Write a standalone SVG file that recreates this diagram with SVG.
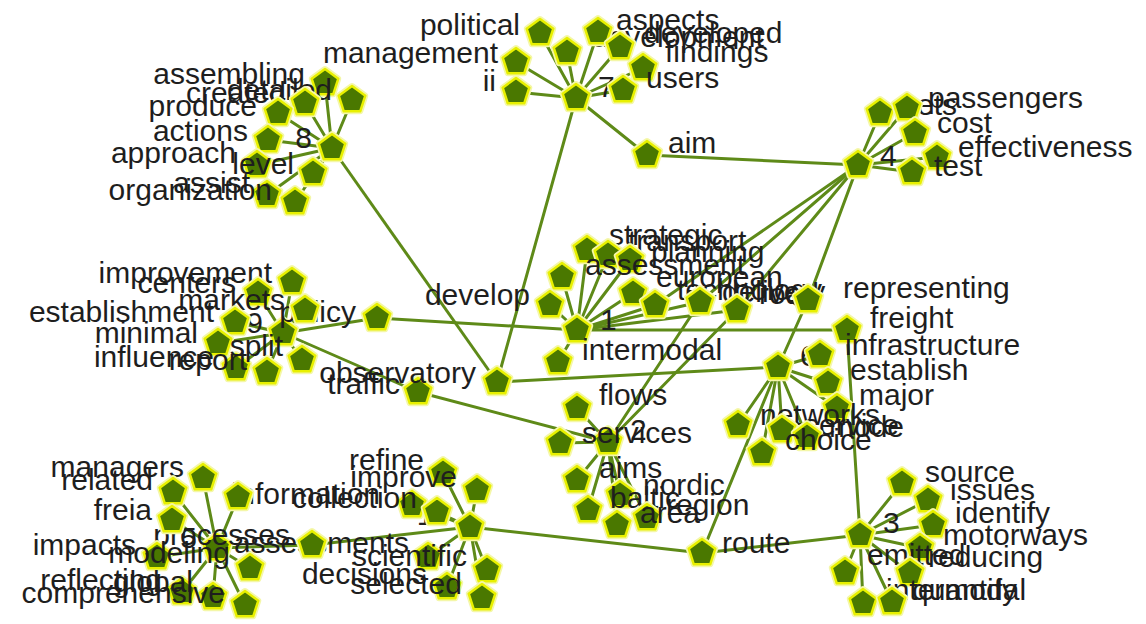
<svg xmlns="http://www.w3.org/2000/svg" xmlns:xlink="http://www.w3.org/1999/xlink" width="1146" height="624" viewBox="0 0 1146 624">
<style>
.e line{stroke:#5e8a18;stroke-width:3;stroke-linecap:round}
.t{font-family:"Liberation Sans",Arial,sans-serif;font-size:30px;fill:#1e1e1e}
.L{text-anchor:end}
</style>
<defs>
<g id="p">
<polygon points="0,-14 13.31,-4.33 8.23,11.33 -8.23,11.33 -13.31,-4.33" fill="none" stroke="#f4f7a8" stroke-width="6" stroke-linejoin="round"/>
<polygon points="0,-14 13.31,-4.33 8.23,11.33 -8.23,11.33 -13.31,-4.33" fill="#4a7800" stroke="#e8f000" stroke-width="2.5" stroke-linejoin="round"/>
</g>
</defs>
<rect width="1146" height="624" fill="#ffffff"/>
<g id="connectors" class="e">
<line x1="576" y1="98" x2="540" y2="33"/><line x1="576" y1="98" x2="516" y2="62"/><line x1="576" y1="98" x2="516" y2="92"/><line x1="576" y1="98" x2="567" y2="52"/><line x1="576" y1="98" x2="598" y2="32"/><line x1="576" y1="98" x2="620" y2="47"/><line x1="576" y1="98" x2="643" y2="68"/><line x1="576" y1="98" x2="623" y2="90"/><line x1="576" y1="98" x2="647" y2="155"/><line x1="576" y1="98" x2="497" y2="382"/>
<line x1="332" y1="148" x2="325" y2="83"/><line x1="332" y1="148" x2="352" y2="100"/><line x1="332" y1="148" x2="305" y2="103"/><line x1="332" y1="148" x2="278" y2="113"/><line x1="332" y1="148" x2="268" y2="140"/><line x1="332" y1="148" x2="257" y2="165"/><line x1="332" y1="148" x2="313" y2="173"/><line x1="332" y1="148" x2="267" y2="195"/><line x1="332" y1="148" x2="295" y2="202"/><line x1="332" y1="148" x2="497" y2="382"/>
<line x1="858" y1="165" x2="880" y2="113"/><line x1="858" y1="165" x2="907" y2="108"/><line x1="858" y1="165" x2="915" y2="133"/><line x1="858" y1="165" x2="937" y2="157"/><line x1="858" y1="165" x2="912" y2="172"/><line x1="858" y1="165" x2="647" y2="155"/><line x1="858" y1="165" x2="655" y2="305"/><line x1="858" y1="165" x2="700" y2="302"/><line x1="858" y1="165" x2="737" y2="310"/><line x1="858" y1="165" x2="808" y2="300"/>
<line x1="577" y1="330" x2="587" y2="250"/><line x1="577" y1="330" x2="608" y2="255"/><line x1="577" y1="330" x2="630" y2="260"/><line x1="577" y1="330" x2="562" y2="277"/><line x1="577" y1="330" x2="550" y2="305"/><line x1="577" y1="330" x2="633" y2="293"/><line x1="577" y1="330" x2="655" y2="305"/><line x1="577" y1="330" x2="700" y2="302"/><line x1="577" y1="330" x2="737" y2="310"/><line x1="577" y1="330" x2="558" y2="362"/><line x1="577" y1="330" x2="377" y2="318"/><line x1="577" y1="330" x2="847" y2="330"/>
<line x1="283" y1="333" x2="292" y2="282"/><line x1="283" y1="333" x2="258" y2="293"/><line x1="283" y1="333" x2="305" y2="310"/><line x1="283" y1="333" x2="235" y2="322"/><line x1="283" y1="333" x2="218" y2="343"/><line x1="283" y1="333" x2="302" y2="360"/><line x1="283" y1="333" x2="267" y2="372"/><line x1="283" y1="333" x2="236" y2="368"/><line x1="283" y1="333" x2="377" y2="318"/><line x1="283" y1="333" x2="418" y2="392"/>
<line x1="418" y1="392" x2="608" y2="442"/>
<line x1="608" y1="442" x2="577" y2="408"/><line x1="608" y1="442" x2="560" y2="443"/><line x1="608" y1="442" x2="577" y2="480"/><line x1="608" y1="442" x2="588" y2="510"/><line x1="608" y1="442" x2="620" y2="495"/><line x1="608" y1="442" x2="617" y2="525"/><line x1="608" y1="442" x2="647" y2="518"/><line x1="608" y1="442" x2="700" y2="302"/><line x1="608" y1="442" x2="737" y2="310"/>
<line x1="778" y1="367" x2="820" y2="355"/><line x1="778" y1="367" x2="828" y2="383"/><line x1="778" y1="367" x2="837" y2="408"/><line x1="778" y1="367" x2="738" y2="425"/><line x1="778" y1="367" x2="762" y2="453"/><line x1="778" y1="367" x2="782" y2="430"/><line x1="778" y1="367" x2="807" y2="437"/><line x1="778" y1="367" x2="497" y2="382"/><line x1="778" y1="367" x2="808" y2="300"/><line x1="778" y1="367" x2="702" y2="553"/>
<line x1="860" y1="535" x2="902" y2="483"/><line x1="860" y1="535" x2="928" y2="500"/><line x1="860" y1="535" x2="933" y2="525"/><line x1="860" y1="535" x2="920" y2="548"/><line x1="860" y1="535" x2="910" y2="573"/><line x1="860" y1="535" x2="845" y2="572"/><line x1="860" y1="535" x2="863" y2="603"/><line x1="860" y1="535" x2="892" y2="602"/><line x1="860" y1="535" x2="847" y2="330"/><line x1="860" y1="535" x2="702" y2="553"/>
<line x1="702" y1="553" x2="470" y2="527"/>
<line x1="470" y1="527" x2="443" y2="473"/><line x1="470" y1="527" x2="477" y2="490"/><line x1="470" y1="527" x2="412" y2="505"/><line x1="470" y1="527" x2="437" y2="512"/><line x1="470" y1="527" x2="428" y2="557"/><line x1="470" y1="527" x2="487" y2="570"/><line x1="470" y1="527" x2="447" y2="587"/><line x1="470" y1="527" x2="482" y2="598"/><line x1="470" y1="527" x2="312" y2="545"/>
<line x1="312" y1="545" x2="217" y2="548"/>
<line x1="217" y1="548" x2="203" y2="478"/><line x1="217" y1="548" x2="173" y2="492"/><line x1="217" y1="548" x2="238" y2="497"/><line x1="217" y1="548" x2="172" y2="520"/><line x1="217" y1="548" x2="157" y2="557"/><line x1="217" y1="548" x2="250" y2="568"/><line x1="217" y1="548" x2="182" y2="592"/><line x1="217" y1="548" x2="213" y2="597"/><line x1="217" y1="548" x2="245" y2="605"/>
</g>
<g id="nodes">
<g id="hub7"><text class="t" x="598" y="97">7</text><use href="#p" x="576" y="98"/></g>
<g id="hub8"><text class="t L" x="312" y="148">8</text><use href="#p" x="332" y="148"/></g>
<g id="hub4"><text class="t" x="880" y="166">4</text><use href="#p" x="858" y="165"/></g>
<g id="hub1"><text class="t" x="600" y="330">1</text><use href="#p" x="577" y="330"/></g>
<g id="hub9"><text class="t L" x="263" y="333">9</text><use href="#p" x="283" y="333"/></g>
<g id="hub2"><text class="t" x="630" y="440">2</text><use href="#p" x="608" y="442"/></g>
<g id="hub6"><text class="t" x="800" y="366">6</text><use href="#p" x="778" y="367"/></g>
<g id="hub3"><text class="t" x="883" y="533">3</text><use href="#p" x="860" y="535"/></g>
<g id="hub10"><text class="t L" x="450" y="525">10</text><use href="#p" x="470" y="527"/></g>
<g id="hub5"><text class="t L" x="197" y="548">5</text><use href="#p" x="217" y="548"/></g>

<g id="n-political"><text class="t L" x="520" y="35">political</text><use href="#p" x="540" y="33"/></g>
<g id="n-management"><text class="t L" x="498" y="63">management</text><use href="#p" x="516" y="62"/></g>
<g id="n-ii"><text class="t L" x="496" y="91">ii</text><use href="#p" x="516" y="92"/></g>
<g id="n-development"><text class="t" x="592" y="47">development</text><use href="#p" x="567" y="52"/></g>
<g id="n-aspects"><text class="t" x="616" y="30">aspects</text><use href="#p" x="598" y="32"/></g>
<g id="n-developed"><text class="t" x="644" y="43">developed</text><use href="#p" x="620" y="47"/></g>
<g id="n-findings"><text class="t" x="665" y="62">findings</text><use href="#p" x="643" y="68"/></g>
<g id="n-users"><text class="t" x="646" y="88">users</text><use href="#p" x="623" y="90"/></g>
<g id="n-aim"><text class="t" x="668" y="153">aim</text><use href="#p" x="647" y="155"/></g>

<g id="n-assembling"><text class="t L" x="305" y="84">assembling</text><use href="#p" x="325" y="83"/></g>
<g id="n-detailed"><text class="t L" x="332" y="100">detailed</text><use href="#p" x="352" y="100"/></g>
<g id="n-created"><text class="t L" x="286" y="103">created</text><use href="#p" x="305" y="103"/></g>
<g id="n-produce"><text class="t L" x="257" y="116">produce</text><use href="#p" x="278" y="113"/></g>
<g id="n-actions"><text class="t L" x="248" y="141">actions</text><use href="#p" x="268" y="140"/></g>
<g id="n-approach"><text class="t L" x="236" y="163">approach</text><use href="#p" x="257" y="165"/></g>
<g id="n-level"><text class="t L" x="294" y="174">level</text><use href="#p" x="313" y="173"/></g>
<g id="n-assist"><text class="t L" x="250" y="193">assist</text><use href="#p" x="267" y="195"/></g>
<g id="n-organization"><text class="t L" x="272" y="200">organization</text><use href="#p" x="295" y="202"/></g>

<g id="n-sets"><text class="t" x="902" y="115">sets</text><use href="#p" x="880" y="113"/></g>
<g id="n-passengers"><text class="t" x="928" y="108">passengers</text><use href="#p" x="907" y="108"/></g>
<g id="n-cost"><text class="t" x="937" y="133">cost</text><use href="#p" x="915" y="133"/></g>
<g id="n-effectiveness"><text class="t" x="958" y="157">effectiveness</text><use href="#p" x="937" y="157"/></g>
<g id="n-test"><text class="t" x="934" y="176">test</text><use href="#p" x="912" y="172"/></g>

<g id="n-strategic"><text class="t" x="609" y="245">strategic</text><use href="#p" x="587" y="250"/></g>
<g id="n-transport"><text class="t" x="628" y="251">transport</text><use href="#p" x="608" y="255"/></g>
<g id="n-planning"><text class="t" x="651" y="262">planning</text><use href="#p" x="630" y="260"/></g>
<g id="n-assessment"><text class="t" x="585" y="275">assessment</text><use href="#p" x="562" y="277"/></g>
<g id="n-develop"><text class="t L" x="530" y="305">develop</text><use href="#p" x="550" y="305"/></g>
<g id="n-european"><text class="t" x="656" y="287">european</text><use href="#p" x="633" y="293"/></g>
<g id="n-technology"><text class="t" x="677" y="300">technology</text><use href="#p" x="655" y="305"/></g>
<g id="n-delivery"><text class="t" x="722" y="302">delivery</text><use href="#p" x="700" y="302"/></g>
<g id="n-road"><text class="t" x="759" y="304">road</text><use href="#p" x="737" y="310"/></g>
<g id="n-representing"><text class="t" x="843" y="298">representing</text><use href="#p" x="808" y="300"/></g>
<g id="n-intermodal1"><text class="t" x="582" y="360">intermodal</text><use href="#p" x="558" y="362"/></g>
<g id="n-freight"><text class="t" x="870" y="328">freight</text><use href="#p" x="847" y="330"/></g>
<g id="n-policy"><text class="t L" x="356" y="322">policy</text><use href="#p" x="377" y="318"/></g>

<g id="n-improvement"><text class="t L" x="272" y="283">improvement</text><use href="#p" x="292" y="282"/></g>
<g id="n-centers"><text class="t L" x="236" y="293">centers</text><use href="#p" x="258" y="293"/></g>
<g id="n-markets"><text class="t L" x="285" y="310">markets</text><use href="#p" x="305" y="310"/></g>
<g id="n-establishment"><text class="t L" x="214" y="322">establishment</text><use href="#p" x="235" y="322"/></g>
<g id="n-minimal"><text class="t L" x="198" y="343">minimal</text><use href="#p" x="218" y="343"/></g>
<g id="n-influence"><text class="t L" x="214" y="367">influence</text><use href="#p" x="236" y="368"/></g>
<g id="n-split"><text class="t L" x="283" y="356">split</text><use href="#p" x="302" y="360"/></g>
<g id="n-report"><text class="t L" x="247" y="370">report</text><use href="#p" x="267" y="372"/></g>
<g id="n-traffic"><text class="t L" x="400" y="394">traffic</text><use href="#p" x="418" y="392"/></g>
<g id="n-observatory"><text class="t L" x="476" y="383">observatory</text><use href="#p" x="497" y="382"/></g>

<g id="n-flows"><text class="t" x="599" y="405">flows</text><use href="#p" x="577" y="408"/></g>
<g id="n-services"><text class="t" x="582" y="443">services</text><use href="#p" x="560" y="443"/></g>
<g id="n-aims"><text class="t" x="599" y="478">aims</text><use href="#p" x="577" y="480"/></g>
<g id="n-nordic"><text class="t" x="643" y="495">nordic</text><use href="#p" x="620" y="495"/></g>
<g id="n-baltic"><text class="t" x="610" y="508">baltic</text><use href="#p" x="588" y="510"/></g>
<g id="n-region"><text class="t" x="666" y="515">region</text><use href="#p" x="647" y="518"/></g>
<g id="n-area"><text class="t" x="640" y="523">area</text><use href="#p" x="617" y="525"/></g>

<g id="n-infrastructure"><text class="t" x="845" y="355">infrastructure</text><use href="#p" x="820" y="355"/></g>
<g id="n-establish"><text class="t" x="850" y="380">establish</text><use href="#p" x="828" y="383"/></g>
<g id="n-major"><text class="t" x="859" y="405">major</text><use href="#p" x="837" y="408"/></g>
<g id="n-networks"><text class="t" x="760" y="425">networks</text><use href="#p" x="738" y="425"/></g>
<g id="n-service"><text class="t" x="804" y="435">service</text><use href="#p" x="782" y="430"/></g>
<g id="n-mode"><text class="t" x="829" y="437">mode</text><use href="#p" x="807" y="437"/></g>
<g id="n-choice"><text class="t" x="785" y="450">choice</text><use href="#p" x="762" y="453"/></g>

<g id="n-source"><text class="t" x="925" y="482">source</text><use href="#p" x="902" y="483"/></g>
<g id="n-issues"><text class="t" x="950" y="500">issues</text><use href="#p" x="928" y="500"/></g>
<g id="n-identify"><text class="t" x="955" y="523">identify</text><use href="#p" x="933" y="525"/></g>
<g id="n-motorways"><text class="t" x="943" y="545">motorways</text><use href="#p" x="920" y="548"/></g>
<g id="n-emitted"><text class="t" x="867" y="565">emitted</text><use href="#p" x="845" y="572"/></g>
<g id="n-reducing"><text class="t" x="928" y="567">reducing</text><use href="#p" x="910" y="573"/></g>
<g id="n-intermodal3"><text class="t" x="886" y="600">intermodal</text><use href="#p" x="863" y="603"/></g>
<g id="n-quantify"><text class="t" x="912" y="600">quantify</text><use href="#p" x="892" y="602"/></g>
<g id="n-route"><text class="t" x="722" y="553">route</text><use href="#p" x="702" y="553"/></g>

<g id="n-refine"><text class="t L" x="424" y="470">refine</text><use href="#p" x="443" y="473"/></g>
<g id="n-improve"><text class="t L" x="457" y="487">improve</text><use href="#p" x="477" y="490"/></g>
<g id="n-information"><text class="t L" x="380" y="504">information</text><use href="#p" x="412" y="505"/></g>
<g id="n-collection"><text class="t L" x="417" y="508">collection</text><use href="#p" x="437" y="512"/></g>
<g id="n-assessments"><text class="t L" x="409" y="553">assessments</text><use href="#p" x="428" y="557"/></g>
<g id="n-scientific"><text class="t L" x="467" y="566">scientific</text><use href="#p" x="487" y="570"/></g>
<g id="n-decisions"><text class="t L" x="427" y="584">decisions</text><use href="#p" x="447" y="587"/></g>
<g id="n-selected"><text class="t L" x="462" y="594">selected</text><use href="#p" x="482" y="598"/></g>
<g id="n-processes"><text class="t L" x="290" y="545">processes</text><use href="#p" x="312" y="545"/></g>

<g id="n-managers"><text class="t L" x="184" y="477">managers</text><use href="#p" x="203" y="478"/></g>
<g id="n-related"><text class="t L" x="153" y="490">related</text><use href="#p" x="173" y="492"/></g>
<g id="n-5a"><use href="#p" x="238" y="497"/></g>
<g id="n-freia"><text class="t L" x="152" y="520">freia</text><use href="#p" x="172" y="520"/></g>
<g id="n-impacts"><text class="t L" x="136" y="555">impacts</text><use href="#p" x="157" y="557"/></g>
<g id="n-modeling"><text class="t L" x="230" y="563">modeling</text><use href="#p" x="250" y="568"/></g>
<g id="n-reflecting"><text class="t L" x="162" y="590">reflecting</text><use href="#p" x="182" y="592"/></g>
<g id="n-global"><text class="t L" x="193" y="592">global</text><use href="#p" x="213" y="597"/></g>
<g id="n-comprehensive"><text class="t L" x="225" y="603">comprehensive</text><use href="#p" x="245" y="605"/></g>
</g>
</svg>
